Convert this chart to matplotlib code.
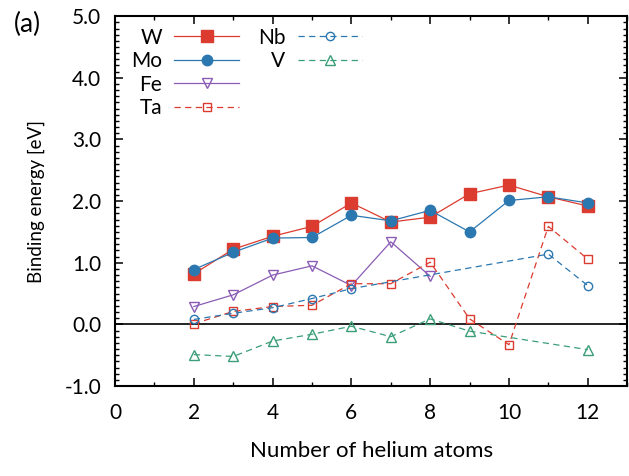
import matplotlib
matplotlib.use('Agg')
import matplotlib.pyplot as plt
from matplotlib.ticker import MultipleLocator, FormatStrFormatter

plt.rcParams['font.family'] = ['Lato', 'DejaVu Sans']

n_he = [2, 3, 4, 5, 6, 7, 8, 9, 10, 11, 12]
w = [0.82, 1.22, 1.43, 1.59, 1.97, 1.66, 1.74, 2.12, 2.26, 2.07, 1.92]
mo = [0.89, 1.17, 1.40, 1.41, 1.77, 1.68, 1.85, 1.50, 2.01, 2.07, 1.97]
fe_x = [2, 3, 4, 5, 6, 7, 8]
fe = [0.29, 0.48, 0.80, 0.95, 0.63, 1.34, 0.78]
ta = [0.01, 0.21, 0.29, 0.31, 0.66, 0.66, 1.01, 0.09, -0.33, 1.59, 1.06]
nb_x = [2, 3, 4, 5, 6, 11, 12]
nb = [0.08, 0.18, 0.27, 0.42, 0.58, 1.14, 0.63]
v_x = [2, 3, 4, 5, 6, 7, 8, 9, 12]
v = [-0.49, -0.52, -0.27, -0.16, -0.03, -0.20, 0.09, -0.11, -0.41]

red = '#dc3b2f'
blue = '#2b78b0'
purple = '#8a5cb5'
green = '#3a9e78'


def main():
    fig = plt.figure(figsize=(6.29, 4.76), dpi=100)
    ax = fig.add_axes([0.183, 0.189, 0.814, 0.777])

    ax.axhline(0, color='black', lw=1.2, zorder=1)

    dash = (5, 3.5)
    l_w, = ax.plot(n_he, w, '-s', color=red, lw=0.9, ms=8, label='W', zorder=4)
    l_mo, = ax.plot(n_he, mo, '-o', color=blue, lw=0.9, ms=7.5, label='Mo', zorder=5)
    l_fe, = ax.plot(fe_x, fe, '-v', color=purple, lw=0.9, ms=7, mfc='none',
                    label='Fe', zorder=3)
    l_ta, = ax.plot(n_he, ta, '--s', color=red, lw=0.9, ms=6, mfc='none',
                    label='Ta', dashes=dash, zorder=3)
    l_nb, = ax.plot(nb_x, nb, '--o', color=blue, lw=0.9, ms=6, mfc='none',
                    label='Nb', dashes=dash, zorder=3)
    l_v, = ax.plot(v_x, v, '--^', color=green, lw=0.9, ms=6.5, mfc='none',
                   label='V', dashes=dash, zorder=3)

    ax.set_xlim(0, 13)
    ax.set_ylim(-1, 5)
    ax.xaxis.set_major_locator(MultipleLocator(2))
    ax.xaxis.set_minor_locator(MultipleLocator(1))
    ax.yaxis.set_major_locator(MultipleLocator(1))
    ax.yaxis.set_minor_locator(MultipleLocator(0.1))
    ax.yaxis.set_major_formatter(FormatStrFormatter('%.1f'))
    ax.tick_params(which='both', direction='in', top=True, right=True, labelsize=15)
    ax.tick_params(axis='x', pad=12)
    ax.tick_params(axis='y', pad=10)
    ax.tick_params(which='major', length=5.5, width=1.1)
    ax.tick_params(which='minor', length=3, width=1.0)
    for s in ax.spines.values():
        s.set_linewidth(1.5)

    ax.set_xlabel('Number of helium atoms', fontsize=16, labelpad=13)
    ax.set_ylabel('Binding energy [eV]', fontsize=13.5, labelpad=14)

    opts = dict(loc='upper right', frameon=False, markerfirst=False, fontsize=15,
                handlelength=3.1, labelspacing=0.17, handletextpad=0.6,
                borderpad=0, borderaxespad=0, bbox_transform=fig.transFigure)
    leg1 = ax.legend(handles=[l_w, l_mo, l_fe, l_ta],
                     bbox_to_anchor=(0.380, 0.942), **opts)
    ax.add_artist(leg1)
    ax.legend(handles=[l_nb, l_v], bbox_to_anchor=(0.576, 0.942), **opts)

    fig.text(0.022, 0.975, '(a)', fontsize=19, va='top')

    fig.savefig('out.png', dpi=100)


if __name__ == '__main__':
    main()
